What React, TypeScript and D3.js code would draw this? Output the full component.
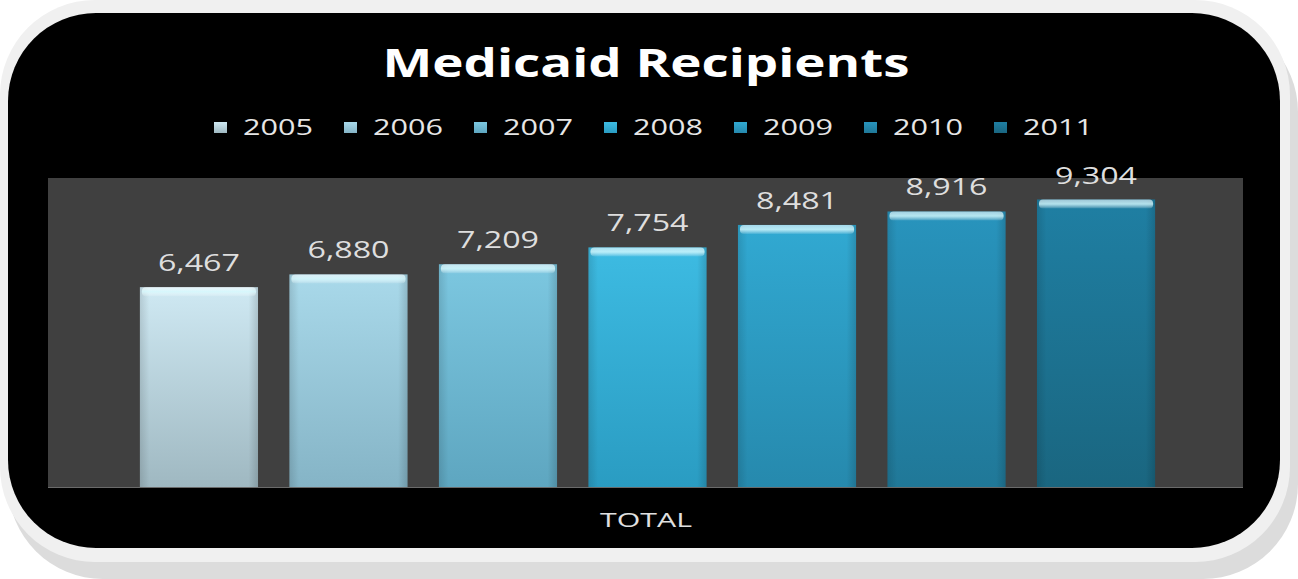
import * as d3 from "d3";

const years = ["2005", "2006", "2007", "2008", "2009", "2010", "2011"];
const recipients = [6467, 6880, 7209, 7754, 8481, 8916, 9304];
const topColors = ["#cfe9f3", "#a9d9ea", "#7cc7e0", "#3dbbe2", "#31a9d2", "#2894bd", "#1f7fa3"];
const bottomColors = ["#9fb8c1", "#85b4c6", "#5ea6c0", "#2a9cc2", "#2689ad", "#207898", "#1a6680"];
const categoryLabel = "TOTAL";
const title = "Medicaid Recipients";

const W = 1298, H = 579;
const plot = { left: 48, right: 1243, top: 178, bottom: 487 };

const x = d3.scaleBand().domain(years).range([108.5, 1186.5]).padding(0.21);
const y = d3.scaleLinear().domain([0, 10000]).range([plot.bottom, plot.top]);
const fmt = d3.format(",");

const legendStep = 130;
const legendX0 = 213;

export default function App() {
  return (
    <svg width={W} height={H} style={{ position: "absolute", left: 0, top: 0, background: "#ffffff" }}
      fontFamily="'Open Sans', sans-serif">
      <defs>
        {years.map((yr, i) => (
          <linearGradient key={yr} id={`g${i}`} x1="0" y1="0" x2="0" y2="1">
            <stop offset="0" stopColor={topColors[i]} />
            <stop offset="1" stopColor={bottomColors[i]} />
          </linearGradient>
        ))}
        <linearGradient id="side" x1="0" y1="0" x2="1" y2="0">
          <stop offset="0" stopColor="#000" stopOpacity="0.12" />
          <stop offset="0.08" stopColor="#000" stopOpacity="0" />
          <stop offset="0.92" stopColor="#000" stopOpacity="0" />
          <stop offset="1" stopColor="#000" stopOpacity="0.15" />
        </linearGradient>
        <linearGradient id="bevel" x1="0" y1="0" x2="0" y2="1">
          <stop offset="0" stopColor="#ffffff" stopOpacity="0.55" />
          <stop offset="0.5" stopColor="#d8fbff" stopOpacity="0.8" />
          <stop offset="1" stopColor="#ffffff" stopOpacity="0.1" />
        </linearGradient>
      </defs>

      {/* frame */}
      <rect x={8} y={17} width={1290} height={562} rx={95} fill="#dcdcdc" />
      <rect x={0} y={0} width={1290} height={562} rx={95} fill="#f0f0f0" />
      <rect x={8} y={13} width={1272} height={535} rx={88} fill="#000" />

      {/* title */}
      <text x={646} y={77} textAnchor="middle" fill="#ffffff" fontWeight="bold" fontSize={40}
        textLength={527} lengthAdjust="spacingAndGlyphs">{title}</text>

      {/* legend */}
      {years.map((yr, i) => (
        <g key={yr} transform={`translate(${legendX0 + i * legendStep},0)`}>
          <rect x={1} y={122} width={13} height={11} fill={`url(#g${i})`} />
          <text x={30} y={135} fill="#e6e6e6" fontSize={21} textLength={70} lengthAdjust="spacingAndGlyphs">{yr}</text>
        </g>
      ))}

      {/* plot area */}
      <rect x={plot.left} y={plot.top} width={plot.right - plot.left} height={plot.bottom - plot.top} fill="#404040" />

      {/* bars */}
      {years.map((yr, i) => {
        const bx = x(yr) as number;
        const bw = x.bandwidth();
        const by = y(recipients[i]);
        const bh = y(0) - by;
        return (
          <g key={yr}>
            <rect x={bx} y={by} width={bw} height={bh} fill={`url(#g${i})`} />
            <rect x={bx} y={by} width={bw} height={bh} fill="url(#side)" />
            <rect x={bx + 2} y={by} width={bw - 4} height={9} rx={4} fill="url(#bevel)" />
            <text x={bx + bw / 2} y={by - 16} textAnchor="middle" fill="#dedede" fontSize={23}
              textLength={82} lengthAdjust="spacingAndGlyphs">{fmt(recipients[i])}</text>
          </g>
        );
      })}

      <line x1={plot.left} x2={plot.right} y1={plot.bottom + 0.5} y2={plot.bottom + 0.5} stroke="#6a6a6a" />

      {/* category axis label */}
      <text x={646} y={527} textAnchor="middle" fill="#e0e0e0" fontSize={20}
        textLength={92} lengthAdjust="spacingAndGlyphs">{categoryLabel}</text>
    </svg>
  );
}
